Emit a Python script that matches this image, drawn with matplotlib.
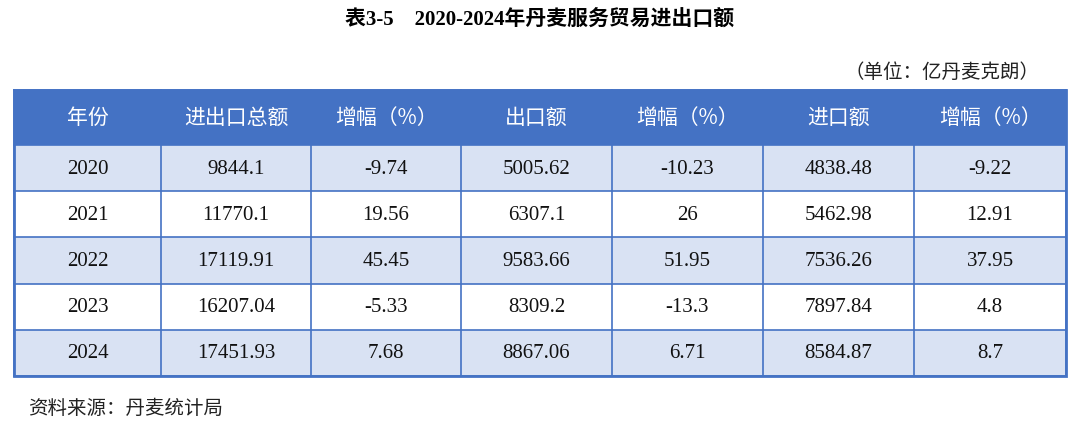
import matplotlib
matplotlib.use('Agg')
import matplotlib.pyplot as plt
from matplotlib.patches import Rectangle

# table data
headers = ['年份', '进出口总额', '增幅（%）', '出口额', '增幅（%）', '进口额', '增幅（%）']
years = ['2020', '2021', '2022', '2023', '2024']
total = ['9844.1', '11770.1', '17119.91', '16207.04', '17451.93']
total_growth = ['-9.74', '19.56', '45.45', '-5.33', '7.68']
exports = ['5005.62', '6307.1', '9583.66', '8309.2', '8867.06']
export_growth = ['-10.23', '26', '51.95', '-13.3', '6.71']
imports = ['4838.48', '5462.98', '7536.26', '7897.84', '8584.87']
import_growth = ['-9.22', '12.91', '37.95', '4.8', '8.7']

title = '表3-5    2020-2024年丹麦服务贸易进出口额'
unit = '（单位：亿丹麦克朗）'
source = '资料来源：丹麦统计局'

MIX = ['Liberation Serif', 'Noto Sans CJK SC']
CJK = ['Noto Sans CJK SC', 'Liberation Serif']

fig = plt.figure(figsize=(10.8, 4.33), dpi=100)
ax = fig.add_axes([0, 0, 1, 1])
ax.set_xlim(0, 1080)
ax.set_ylim(433, 0)
ax.axis('off')

blue = '#4472C4'
light = '#D9E2F3'
x_edges = [14, 161, 311, 461, 612, 763, 914, 1066]
header_top, header_bot = 90, 145
row_h = 46.2

ax.text(540, 20, title, ha='center', va='center', fontsize=15, fontweight='bold', family=MIX)
ax.text(1040, 72, unit, ha='right', va='center', fontsize=14, family=CJK, color='#222222')

# header
ax.add_patch(Rectangle((x_edges[0], header_top), x_edges[-1] - x_edges[0], header_bot - header_top,
                       facecolor=blue, edgecolor='none'))
for i, h in enumerate(headers):
    cx = (x_edges[i] + x_edges[i + 1]) / 2
    ax.text(cx, (header_top + header_bot) / 2, h, ha='center', va='center', fontsize=15,
            color='white', family=CJK)

cols = [years, total, total_growth, exports, export_growth, imports, import_growth]
for r in range(len(years)):
    y0 = header_bot + r * row_h
    fc = light if r % 2 == 0 else 'white'
    ax.add_patch(Rectangle((x_edges[0], y0), x_edges[-1] - x_edges[0], row_h,
                           facecolor=fc, edgecolor='none'))
    for c, col in enumerate(cols):
        cx = (x_edges[c] + x_edges[c + 1]) / 2
        ax.text(cx, y0 + row_h / 2 + 1, col[r], ha='center', va='center', fontsize=15,
                color='#111111', family=MIX)

bottom = header_bot + len(years) * row_h
# grid lines
for x in x_edges:
    ax.plot([x, x], [header_top, bottom], color=blue, lw=1.2)
for r in range(len(years) + 1):
    y = header_bot + r * row_h
    ax.plot([x_edges[0], x_edges[-1]], [y, y], color=blue, lw=1.2)
ax.plot([x_edges[0], x_edges[-1]], [header_top, header_top], color=blue, lw=1.2)
ax.add_patch(Rectangle((x_edges[0], header_top), x_edges[-1] - x_edges[0], bottom - header_top,
                       facecolor='none', edgecolor=blue, lw=2))

ax.text(28, 408, source, ha='left', va='center', fontsize=14, family=CJK, color='#222222')

fig.savefig('out.png', dpi=100)
